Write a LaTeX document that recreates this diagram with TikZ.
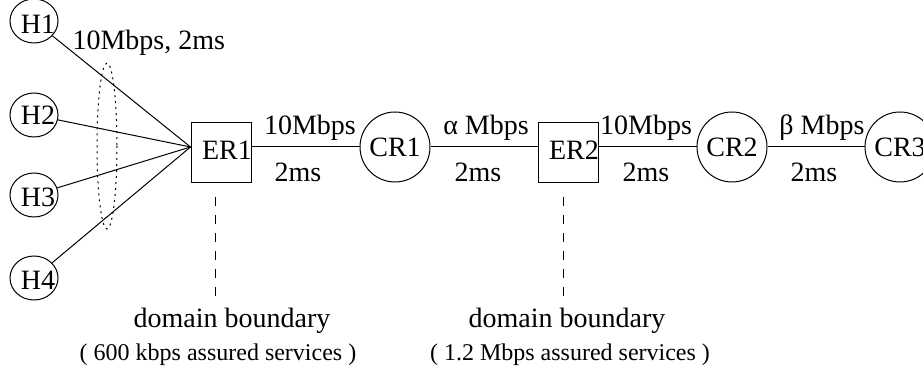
\documentclass[tikz,border=0pt]{standalone}
\usepackage{fontspec}
\setmainfont{Liberation Serif}
\usetikzlibrary{calc,positioning,shapes.geometric}

\begin{document}
\begin{tikzpicture}[x=1pt, y=-1pt, line width=1pt, font=\fontsize{28}{34}\selectfont,
    hst/.style args={#1/#2}{draw,ellipse,minimum width=48pt,minimum height=44pt,inner sep=0pt,
      label={[xshift=4pt,yshift=#2]center:#1}},
    crt/.style={draw,circle,minimum size=70pt,inner sep=0pt},
    rtr/.style={draw,minimum size=60pt,inner sep=0pt,label={[xshift=6pt,yshift=3pt]center:#1}},
    bnd/.style={dash pattern=on 9pt off 9pt},
    lnk/.style={anchor=base,inner sep=0pt},
    small/.style={anchor=base,inner sep=0pt,font=\fontsize{24}{29}\selectfont}]
      \useasboundingbox (0,0) rectangle (923,371);

      \node[hst=H1/-3pt] (h1) at (34,21) {};
      \node[hst=H2/0pt] (h2) at (34,115) {};
      \node[hst=H3/-2pt] (h3) at (34,195) {};
      \node[hst=H4/-2pt] (h4) at (34,278) {};

      \node[rtr=ER1] (er1) at (221,153) {};
      \node[crt] (cr1) at (395,147) {CR1};
      \node[rtr=ER2] (er2) at (568,153) {};
      \node[crt] (cr2) at (732,147) {CR2};
      \node[crt] (cr3) at (900,147) {CR3};

      \coordinate (er1w) at (er1.west |- cr1);
      \draw (h1) -- (er1w);
      \draw (h2) -- (er1w);
      \draw (h3) -- (er1w);
      \draw (h4) -- (er1w);
      \draw[dash pattern=on 2pt off 4pt] (107,146) ellipse [x radius=10, y radius=83];

      \draw (er1.east |- cr1) -- (cr1);
      \draw (cr1) -- (er2.west |- cr1);
      \draw (er2.east |- cr2) -- (cr2);
      \draw (cr2) -- (cr3);

      \node[lnk,anchor=base west] (acc) at (72,50) {10Mbps, 2ms};
      \node[lnk] (bw1) at (310,135) {10Mbps};
      \node[lnk] (dl1) at (298,182) {2ms};
      \node[lnk] (bw2) at (486,135) {α Mbps};
      \node[lnk] (dl2) at (478,182) {2ms};
      \node[lnk] (bw3) at (646,135) {10Mbps};
      \node[lnk] (dl3) at (646,182) {2ms};
      \node[lnk] (bw4) at (822,135) {β Mbps};
      \node[lnk] (dl4) at (814,182) {2ms};

      % domain boundaries
      \coordinate (b1a) at (215,197);
      \coordinate (b1b) at (215,297);
      \coordinate (b2a) at (563,197);
      \coordinate (b2b) at (563,297);
      \draw[bnd] (b1a) -- (b1b);
      \draw[bnd] (b2a) -- (b2b);
      \node[lnk] (db1) at (232,327) {domain boundary};
      \node[lnk] (db2) at (567,327) {domain boundary};
      \node[small] (as1) at (218,360) {( 600 kbps assured services )};
      \node[small] (as2) at (570,360) {( 1.2 Mbps assured services )};
    \end{tikzpicture}
\end{document}
